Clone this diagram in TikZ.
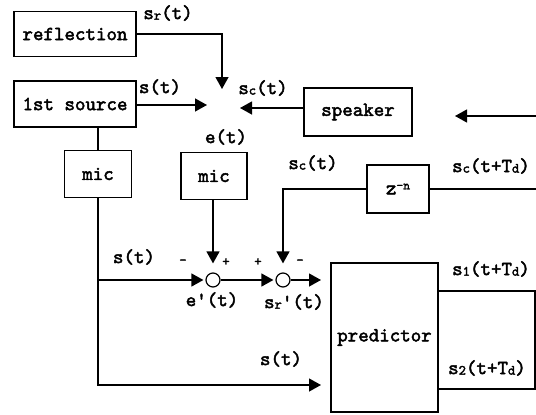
\documentclass[tikz,border=0pt]{standalone}
\usepackage{fontspec}
\newfontfamily\dmono[FakeBold=2.2]{lmmono10-regular.otf}
\usetikzlibrary{arrows.meta}
\newcommand{\lo}[1]{\raisebox{-0.5pt}{\fontsize{14}{14}\selectfont #1}}
\newcommand{\hi}[1]{\raisebox{5pt}{\fontsize{13}{13}\selectfont #1}}
\tikzset{
 blk/.style={draw, line width=1.3pt, inner sep=0pt, font=\dmono\fontsize{20}{22}\selectfont},
 lbl/.style={inner sep=0pt, font=\dmono\fontsize{20}{22}\selectfont},
 sgn/.style={inner sep=0pt, font=\dmono\fontsize{14}{14}\selectfont},
 wire/.style={line width=1.3pt},
 arr/.style={wire, -{Triangle[length=12pt,width=13pt]}},
 sum/.style={draw, circle, line width=1.2pt, minimum size=14pt, inner sep=0pt}
}
\begin{document}
\begin{tikzpicture}[x=1pt,y=-1pt]
\useasboundingbox (0,0) rectangle (536,415);
% blocks
\node[blk, minimum width=122pt, minimum height=45pt] (refl) at (75,34) {reflection};
\node[blk, minimum width=122pt, minimum height=46pt] (src) at (75,104) {1st source};
\node[blk, minimum width=108pt, minimum height=48pt] (spk) at (358,112) {speaker};
\node[blk, minimum width=67pt, minimum height=47pt] (mic1) at (98,174) {mic};
\node[blk, minimum width=66pt, minimum height=47pt] (mic2) at (214,176) {mic};
\node[blk, minimum width=62pt, minimum height=48pt] (z) at (398,189) {z\hi{-n}};
\node[blk, minimum width=107pt, minimum height=149pt] (pred) at (384.5,337.5) {predictor};
\node[blk, minimum width=97pt, minimum height=98pt] (out) at (486.5,340) {};
\node[sum] (c1) at (213,280) {};
\node[sum] (c2) at (283,280) {};
% free ends
\coordinate (eT) at (222,89);
\coordinate (eL) at (207,105);
\coordinate (eR) at (240,108);
\coordinate (rin) at (455,116);
\coordinate (redge) at (536,116);
\coordinate (zr) at (536,189);
\coordinate (p1) at (321,280);
\coordinate (p2) at (321,385);
% connectors
\draw[arr] (refl.east) -| (eT);
\draw[arr] (src.east |- eL) -- (eL);
\draw[arr] (spk.west |- eR) -- (eR);
\draw[arr] (redge) -- (rin);
\draw[wire] (src.south -| mic1.north) -- (mic1.north);
\draw[arr, shorten >=9pt] (mic2.south -| c1.north) -- (c1.north);
\draw[arr, shorten >=9pt] (z.west) -| (c2.north);
\draw[wire] (z.east) -- (zr);
\draw[arr, shorten >=2pt] (mic1.south) |- (c1.west);
\draw[arr] (mic1.south) |- (p2);
\draw[arr, shorten >=2pt] (c1.east) -- (c2.west);
\draw[arr] (c2.east) -- (p1);
% labels
\node[lbl] (lsr) at (168,13) {s\lo{r}(t)};
\node[lbl] (ls1) at (160,87) {s(t)};
\node[lbl] (lsc1) at (263,88) {s\lo{c}(t)};
\node[lbl] (le) at (226,137) {e(t)};
\node[lbl] (lsc2) at (313,163) {s\lo{c}(t)};
\node[lbl] (lsct) at (491,166) {s\lo{c}(t+T\lo{d})};
\node[lbl] (ls1t) at (491,269) {s\lo{1}(t+T\lo{d})};
\node[lbl] (ls2t) at (487,368) {s\lo{2}(t+T\lo{d})};
\node[lbl] (lst) at (134,257) {s(t)};
\node[lbl] (lst2) at (281,359) {s(t)};
\node[lbl] (lep) at (212,300) {e'(t)};
\node[lbl] (lsrp) at (294,302) {s\lo{r}'(t)};
\node[sgn] (m1) at (183,262) {-};
\node[sgn] (p1s) at (226,262) {+};
\node[sgn] (p2s) at (258,262) {+};
\node[sgn] (m2) at (300,262) {-};
\end{tikzpicture}
\end{document}
